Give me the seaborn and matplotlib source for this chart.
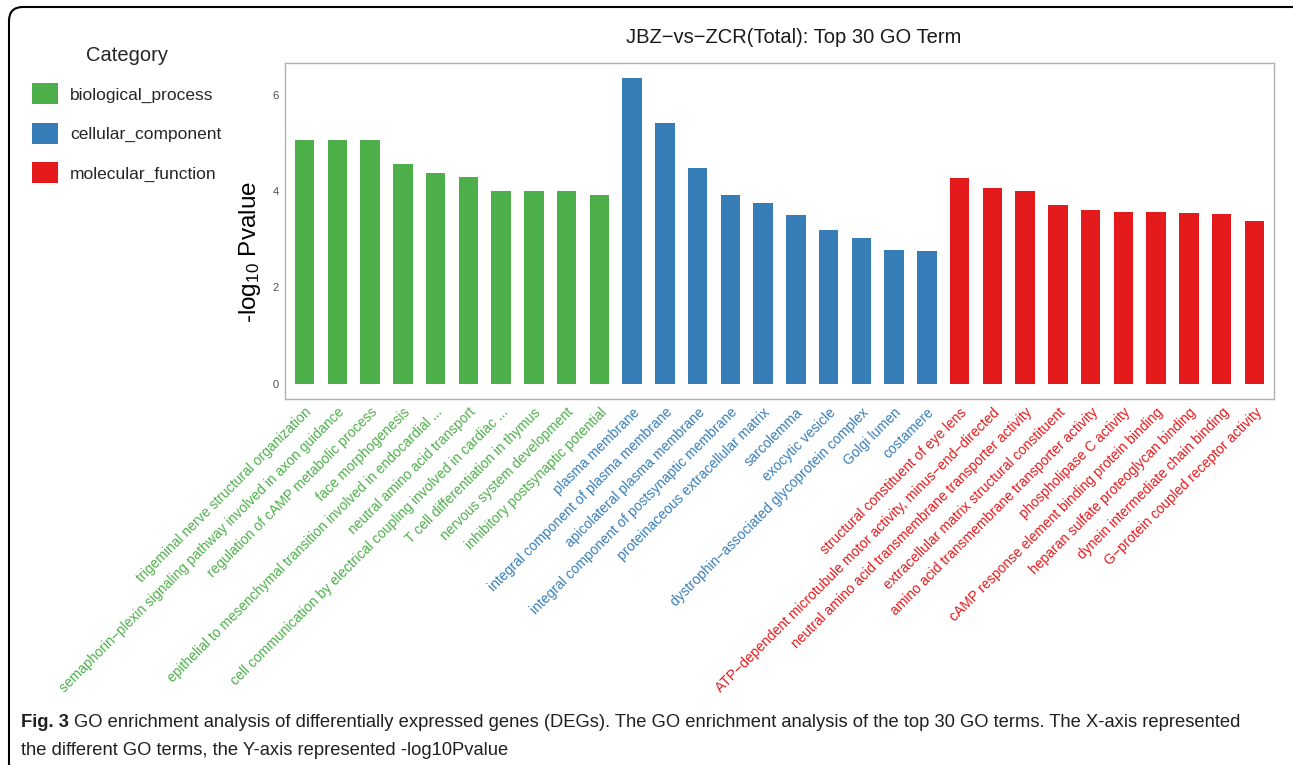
import numpy as np
import pandas as pd
import matplotlib
matplotlib.use("Agg")
import matplotlib.pyplot as plt
import seaborn as sns
from matplotlib.patches import FancyBboxPatch
from matplotlib.transforms import IdentityTransform

# ---------------- data ----------------
categories = ["biological_process", "cellular_component", "molecular_function"]
category_colors = ["#4DAF4A", "#377EB8", "#E41A1C"]

bp_terms = [
    "trigeminal nerve structural organization",
    "semaphorin\u2212plexin signaling pathway involved in axon guidance",
    "regulation of cAMP metabolic process",
    "face morphogenesis",
    "epithelial to mesenchymal transition involved in endocardial ...",
    "neutral amino acid transport",
    "cell communication by electrical coupling involved in cardiac ...",
    "T cell differentiation in thymus",
    "nervous system development",
    "inhibitory postsynaptic potential",
]
bp_values = [5.05, 5.05, 5.05, 4.57, 4.37, 4.29, 4.01, 4.01, 3.99, 3.91]

cc_terms = [
    "plasma membrane",
    "integral component of plasma membrane",
    "apicolateral plasma membrane",
    "integral component of postsynaptic membrane",
    "proteinaceous extracellular matrix",
    "sarcolemma",
    "exocytic vesicle",
    "dystrophin\u2212associated glycoprotein complex",
    "Golgi lumen",
    "costamere",
]
cc_values = [6.34, 5.41, 4.48, 3.91, 3.76, 3.50, 3.19, 3.03, 2.78, 2.75]

mf_terms = [
    "structural constituent of eye lens",
    "ATP\u2212dependent microtubule motor activity, minus\u2212end\u2212directed",
    "neutral amino acid transmembrane transporter activity",
    "extracellular matrix structural constituent",
    "amino acid transmembrane transporter activity",
    "phospholipase C activity",
    "cAMP response element binding protein binding",
    "heparan sulfate proteoglycan binding",
    "dynein intermediate chain binding",
    "G\u2212protein coupled receptor activity",
]
mf_values = [4.26, 4.06, 4.01, 3.72, 3.60, 3.56, 3.56, 3.55, 3.53, 3.37]

y_ticks = [0, 2, 4, 6]
title_text = "JBZ\u2212vs\u2212ZCR(Total): Top 30 GO Term"
ylabel_text = r"-log$_{10}$ Pvalue"
legend_title = "Category"
caption_bold = "Fig. 3"
caption_line1 = ("GO enrichment analysis of differentially expressed genes (DEGs). "
                 "The GO enrichment analysis of the top 30 GO terms. The X-axis represented")
caption_line2 = "the different GO terms, the Y-axis represented -log10Pvalue"

# ---------------- style ----------------
sns.set_style("white")
plt.rcParams["font.family"] = ["Liberation Sans", "DejaVu Sans"]
plt.rcParams["mathtext.fontset"] = "custom"
plt.rcParams["mathtext.rm"] = "Liberation Sans"
plt.rcParams["mathtext.it"] = "Liberation Sans:italic"
plt.rcParams["mathtext.bf"] = "Liberation Sans:bold"

terms = bp_terms + cc_terms + mf_terms
values = bp_values + cc_values + mf_values
cats = ([categories[0]] * len(bp_terms) + [categories[1]] * len(cc_terms)
        + [categories[2]] * len(mf_terms))
df = pd.DataFrame({"term": terms, "value": values, "category": cats})
color_of = dict(zip(categories, category_colors))

W, H = 1293, 765
fig = plt.figure(figsize=(W / 100, H / 100), dpi=100)
ax = fig.add_axes([285 / W, 1 - 399 / H, (1274 - 285) / W, (399 - 63) / H])

sns.barplot(data=df, x="term", y="value", hue="category", order=terms,
            hue_order=categories, palette=category_colors, saturation=1,
            width=0.6, dodge=False, errorbar=None, linewidth=0, ax=ax)

n = len(terms)
ax.set_xlim(-0.6, n - 0.4)
ymax = max(values)
ax.set_ylim(-0.05 * ymax, 1.05 * ymax)
ax.set_yticks(y_ticks)
ax.set_yticklabels([str(t) for t in y_ticks])
ax.set_xticks(range(n))
ax.set_xticklabels(terms, rotation=45, ha="right", va="top",
                   rotation_mode="anchor", fontsize=10)
for lab, c in zip(ax.get_xticklabels(), cats):
    lab.set_color(color_of[c])
ax.tick_params(axis="both", length=2.5, width=0.8, color="#555555")
ax.tick_params(axis="y", labelsize=8, labelcolor="#4D4D4D", pad=2)
ax.tick_params(axis="x", pad=2)
for s in ax.spines.values():
    s.set_color("#B0B0B0")
    s.set_linewidth(1.0)
ax.set_xlabel("")
ax.set_ylabel(ylabel_text, fontsize=17.5, color="black")
ax.yaxis.set_label_coords(-0.022, 0.4375)

fig.text(794 / W, 1 - 43 / H, title_text, ha="center", va="baseline",
         fontsize=14.5, color="#1A1A1A")

# legend
sns.move_legend(ax, "upper left", bbox_to_anchor=(32 / W, 1 - 46 / H),
                bbox_transform=fig.transFigure, title=legend_title,
                frameon=False, fontsize=12.5, title_fontsize=14.5,
                handlelength=1.5, handleheight=1.5, labelspacing=1.05,
                handletextpad=0.7, borderpad=0, borderaxespad=0)

# frame
frame = FancyBboxPatch((9, -40), W + 40, H - 7 + 40,
                       boxstyle="round,pad=0,rounding_size=14",
                       transform=IdentityTransform(), fill=False,
                       ec="black", lw=1.5)
fig.add_artist(frame)

# caption
cap_col = "#231F20"
cap_fs = 13.25
t1 = fig.text(21 / W, 1 - 727 / H, caption_bold, ha="left", va="baseline",
              fontsize=cap_fs, weight="bold", color=cap_col)
fig.canvas.draw()
r = fig.canvas.get_renderer()
bb = t1.get_window_extent(r)
fig.text((bb.x1 + 5) / W, 1 - 727 / H, caption_line1, ha="left",
         va="baseline", fontsize=cap_fs, color=cap_col)
fig.text(21 / W, 1 - 755 / H, caption_line2, ha="left", va="baseline",
         fontsize=cap_fs, color=cap_col)

fig.savefig("out.png", dpi=100)
